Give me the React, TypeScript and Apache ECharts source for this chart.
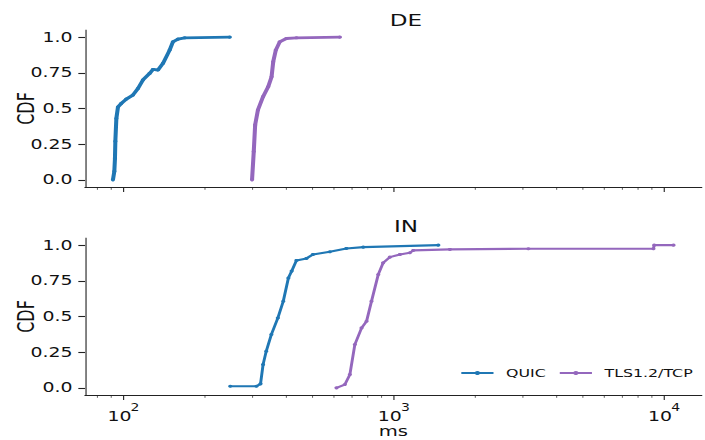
import { useEffect, useRef } from 'react';
import * as echarts from 'echarts';

// Chart is laid out on a narrower canvas and widened with a CSS scaleX.
const CHART_W = 504;
const CHART_H = 440;
const STRETCH = 705 / CHART_W;

const FONT = 'DejaVu Sans';
const TEXT = '#111111';
const AXIS = '#222222';
const QUIC_COLOR = '#1f77b4';
const TLS_COLOR = '#9467bd';

// Handshake time (ms) and cumulative fraction, per vantage point and protocol
const deQuicMs = [91.3, 92.4, 92.9, 93.2, 94.0, 95.3, 98.1, 102.3, 108.2, 113.0, 117.9, 124.8, 128.4, 134.0, 139.8, 148.0, 152.2, 158.9, 168.3, 247];
const deQuicCdf = [0.0, 0.06, 0.15, 0.27, 0.43, 0.51, 0.536, 0.566, 0.594, 0.64, 0.7, 0.746, 0.774, 0.77, 0.816, 0.909, 0.967, 0.986, 0.995, 1.0];

const deTlsMs = [298.6, 303, 306.6, 314, 328, 342.6, 352.6, 357.6, 365.6, 378, 400, 436, 631];
const deTlsCdf = [0.0, 0.198, 0.385, 0.49, 0.583, 0.652, 0.722, 0.827, 0.909, 0.967, 0.99, 0.995, 1.0];

const inQuicMs = [248, 310, 321, 328, 337, 352, 372, 389.6, 407, 418.5, 436, 474.7, 502, 579, 667, 770, 1459];
const inQuicCdf = [0.011, 0.011, 0.028, 0.163, 0.257, 0.374, 0.49, 0.607, 0.77, 0.818, 0.893, 0.907, 0.935, 0.953, 0.977, 0.986, 1.0];

const inTlsMs = [613, 658, 687, 717, 759, 792, 826, 875, 912, 966, 1053, 1145, 1179, 1611, 3143, 9120, 9180, 10820];
const inTlsCdf = [0.0, 0.023, 0.093, 0.304, 0.42, 0.467, 0.607, 0.794, 0.876, 0.916, 0.935, 0.947, 0.963, 0.97, 0.975, 0.975, 1.0, 1.0];

const protocolNames = ['QUIC', 'TLS1.2/TCP'];
const panelTitles = ['DE', 'IN'];

const yTickValues = [0, 0.25, 0.5, 0.75, 1];
const yTickLabels = ['0.0', '0.25', '0.5', '0.75', '1.0'];
const majorTicks = [100, 1000, 10000];
const minorTicks = [80, 90, 200, 300, 400, 500, 600, 700, 800, 900, 2000, 3000, 4000, 5000, 6000, 7000, 8000, 9000];

const X_MIN = 72;
const X_MAX = 13750;
const Y_MIN = -0.05;
const Y_MAX = 1.05;

const GRID_LEFT = 60.8;
const GRID_RIGHT = 2.4;
const GRID_TOPS = [30, 238];
const GRID_HEIGHT = 157;

const pairs = (xs: number[], ys: number[]) => xs.map((x, i) => [x, ys[i]]);

function curve(name: string, xs: number[], ys: number[], idx: number, color: string, width: number) {
  return {
    type: 'line',
    name,
    xAxisIndex: idx,
    yAxisIndex: idx,
    data: pairs(xs, ys),
    showSymbol: true,
    showAllSymbol: true,
    symbol: 'circle',
    symbolSize: 3,
    lineStyle: { color, width },
    itemStyle: { color },
    emphasis: { disabled: true },
    silent: true,
    clip: false,
    z: 3,
  };
}

// Log-axis ticks (decades plus the 2..9 minors) and the 10^n labels
function tickSeries(idx: number, withLabels: boolean) {
  const all = [...minorTicks, ...majorTicks];
  return {
    type: 'custom',
    name: 'xticks' + idx,
    xAxisIndex: idx,
    yAxisIndex: idx,
    silent: true,
    clip: false,
    z: 4,
    data: all.map((v) => [v, Y_MIN]),
    renderItem: (_params: any, api: any) => {
      const v = api.value(0);
      const p = api.coord([v, Y_MIN]);
      const major = majorTicks.indexOf(v) >= 0;
      const children: any[] = [
        {
          type: 'line',
          shape: { x1: p[0], y1: p[1], x2: p[0], y2: p[1] + (major ? 4.9 : 2.8) },
          style: { stroke: AXIS, lineWidth: major ? 0.8 : 0.6 },
        },
      ];
      if (withLabels && major) {
        const exp = String(Math.round(Math.log10(v)));
        children.push({
          type: 'text',
          x: p[0] + 5.6,
          y: p[1] + 21,
          style: {
            text: '10', fontSize: 13.5, fontFamily: FONT, fill: TEXT,
            align: 'right', verticalAlign: 'middle', textAlign: 'right', textVerticalAlign: 'middle',
          },
        });
        children.push({
          type: 'text',
          x: p[0] + 5.0,
          y: p[1] + 13,
          style: {
            text: exp, fontSize: 10, fontFamily: FONT, fill: TEXT,
            align: 'left', verticalAlign: 'middle', textAlign: 'left', textVerticalAlign: 'middle',
          },
        });
      }
      return { type: 'group', children };
    },
  };
}

function yTickLabel(v: number) {
  let best = 0;
  for (let i = 1; i < yTickValues.length; i++) {
    if (Math.abs(yTickValues[i] - v) < Math.abs(yTickValues[best] - v)) best = i;
  }
  return yTickLabels[best];
}

export default function App() {
  const ref = useRef<HTMLDivElement>(null);

  useEffect(() => {
    if (!ref.current) return;
    const chart = echarts.init(ref.current, undefined, { renderer: 'svg' });

    const grids = GRID_TOPS.map((top) => ({
      left: GRID_LEFT,
      right: GRID_RIGHT,
      top,
      height: GRID_HEIGHT,
      outerBoundsMode: 'none',
    }));

    const xAxes = [0, 1].map((i) => ({
      type: 'log',
      logBase: 10,
      gridIndex: i,
      min: X_MIN,
      max: X_MAX,
      name: i === 1 ? 'ms' : '',
      nameLocation: 'middle',
      nameGap: 29,
      nameMoveOverlap: false,
      nameTextStyle: { fontSize: 14, fontFamily: FONT, color: TEXT },
      axisLine: { show: true, onZero: false, lineStyle: { color: AXIS, width: 1.1 } },
      axisTick: { show: false },
      minorTick: { show: false },
      axisLabel: { show: false },
      splitLine: { show: false },
    }));

    const yAxes = [0, 1].map((i) => ({
      type: 'value',
      gridIndex: i,
      min: Y_MIN,
      max: Y_MAX,
      name: 'CDF',
      nameLocation: 'middle',
      nameGap: 34,
      nameRotate: 90,
      nameMoveOverlap: false,
      nameTextStyle: { fontSize: 16, fontFamily: FONT, color: TEXT },
      axisLine: { show: true, onZero: false, lineStyle: { color: AXIS, width: 0.8 } },
      axisTick: { show: true, length: 4.8, customValues: yTickValues, lineStyle: { color: AXIS, width: 1.1 } },
      axisLabel: {
        customValues: yTickValues,
        formatter: (v: number) => yTickLabel(v),
        fontSize: 13.5,
        fontFamily: FONT,
        color: TEXT,
        margin: 9,
      },
      splitLine: { show: false },
    }));

    const titleCenter = 290.2;
    const titleYs = [20.5, 226];

    chart.setOption({
      animation: false,
      backgroundColor: '#ffffff',
      textStyle: { fontFamily: FONT },
      grid: grids,
      xAxis: xAxes,
      yAxis: yAxes,
      legend: {
        data: protocolNames,
        left: 328.8,
        top: 367.5,
        padding: 0,
        itemWidth: 23,
        itemHeight: 5,
        itemGap: 9,
        selectedMode: false,
        textStyle: { fontSize: 11.3, fontFamily: FONT, color: TEXT, padding: [0, 0, 0, 4] },
      },
      graphic: panelTitles.map((t, i) => ({
        type: 'text',
        x: titleCenter,
        y: titleYs[i],
        style: {
          text: t, fontSize: 16.5, fontFamily: FONT, fill: TEXT,
          align: 'center', verticalAlign: 'middle', textAlign: 'center', textVerticalAlign: 'middle',
        },
      })),
      series: [
        curve(protocolNames[0], deQuicMs, deQuicCdf, 0, QUIC_COLOR, 2.9),
        curve(protocolNames[1], deTlsMs, deTlsCdf, 0, TLS_COLOR, 2.9),
        curve(protocolNames[0], inQuicMs, inQuicCdf, 1, QUIC_COLOR, 2.1),
        curve(protocolNames[1], inTlsMs, inTlsCdf, 1, TLS_COLOR, 2.1),
        tickSeries(0, false),
        tickSeries(1, true),
      ],
    });

    return () => chart.dispose();
  }, []);

  return (
    <div style={{ position: 'fixed', left: 0, top: 0, width: 705, height: 440, overflow: 'hidden', background: '#fff' }}>
      <div
        ref={ref}
        style={{
          width: CHART_W,
          height: CHART_H,
          transform: `scaleX(${STRETCH})`,
          transformOrigin: '0 0',
        }}
      />
    </div>
  );
}
